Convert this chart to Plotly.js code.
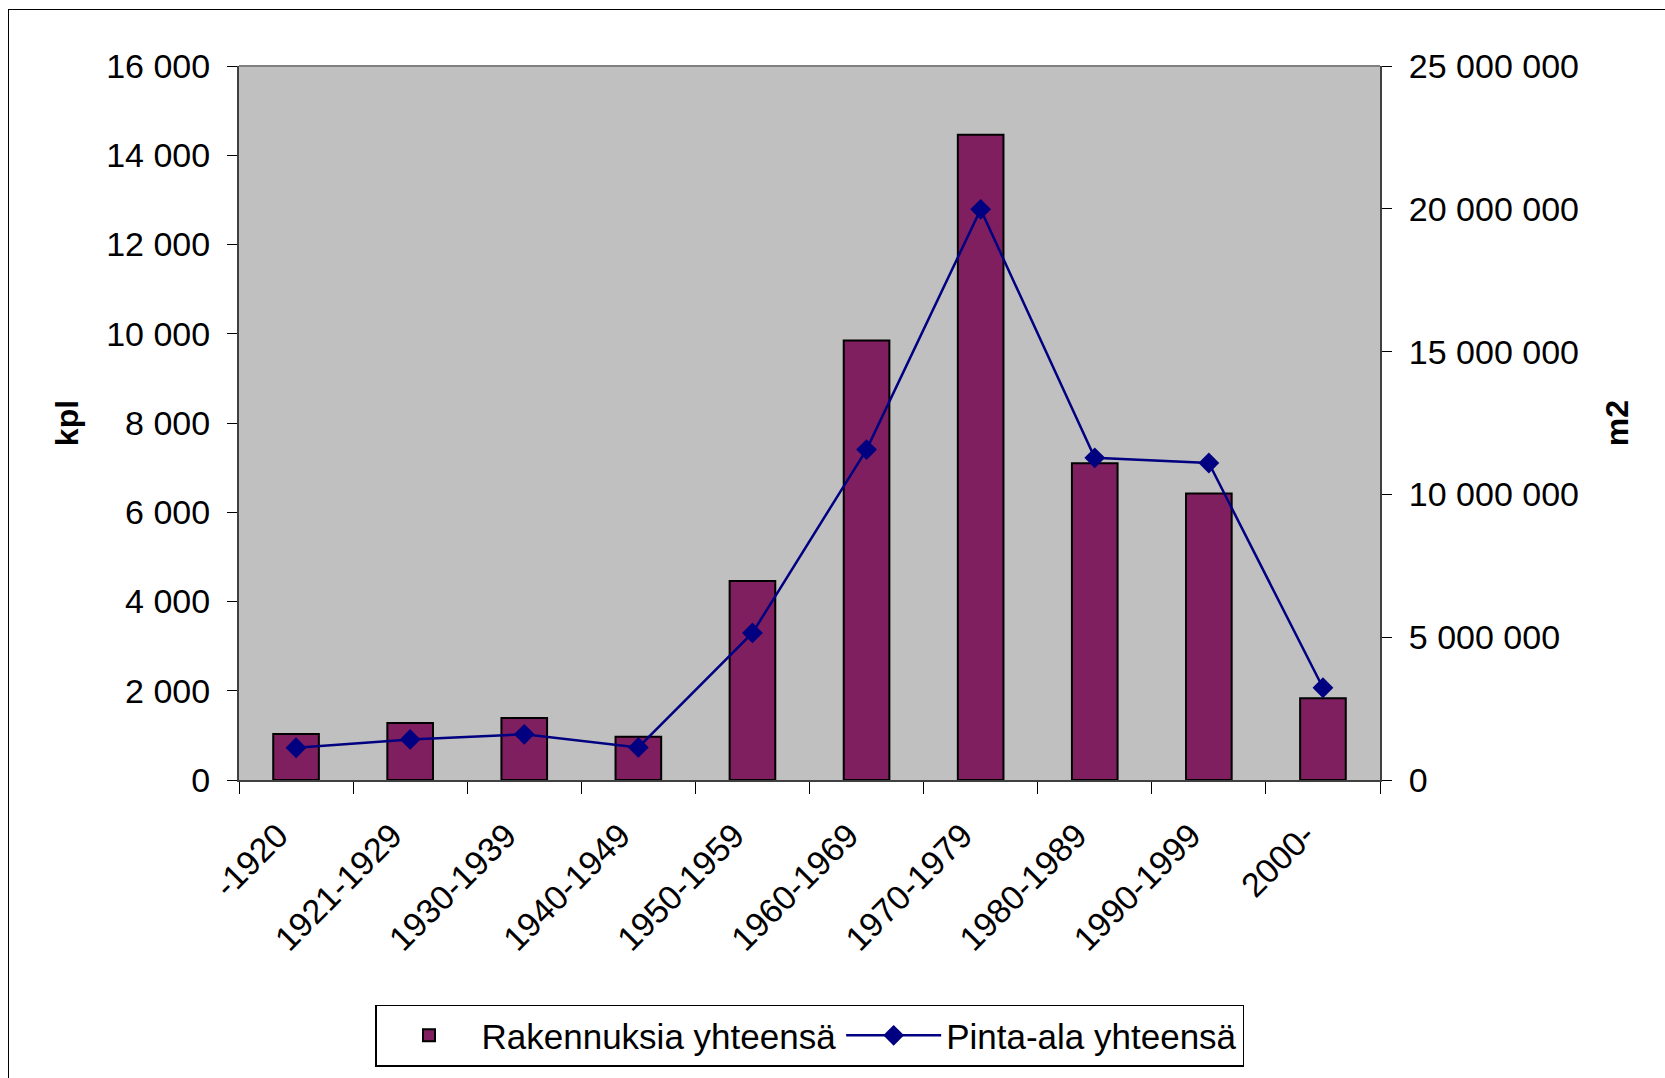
<!DOCTYPE html>
<html>
<head>
<meta charset="utf-8">
<script src="https://cdn.plot.ly/plotly-3.0.1.min.js"></script>
<style>
  html, body { margin: 0; padding: 0; background: #ffffff; overflow: hidden; }
  #chart { width: 1665px; height: 1078px; }
  #frame { position: absolute; left: 8px; top: 9px; width: 1700px; height: 1100px;
           border: 1.5px solid #000; pointer-events: none; }
</style>
</head>
<body>
<div id="chart"></div>
<div id="frame"></div>
<script>
const categories = ['-1920', '1921-1929', '1930-1939', '1940-1949', '1950-1959',
                    '1960-1969', '1970-1979', '1980-1989', '1990-1999', '2000-'];
const buildings = [1030, 1280, 1390, 970, 4460, 9850, 14460, 7100, 6420, 1830];
const floorArea = [1130000, 1420000, 1600000, 1140000, 5150000, 11570000, 19980000, 11280000, 11100000, 3230000];
const barName = 'Rakennuksia yhteensä';
const lineName = 'Pinta-ala yhteensä';
const leftTitle = 'kpl';
const rightTitle = 'm2';

const font = 'Liberation Sans, Arial, sans-serif';

const traces = [
  {
    type: 'bar', name: barName, x: categories, y: buildings,
    marker: { color: '#7f1f5f', line: { color: '#000000', width: 2 } },
    width: 0.4, yaxis: 'y'
  },
  {
    type: 'scatter', mode: 'lines+markers', name: lineName, x: categories, y: floorArea,
    line: { color: '#000080', width: 2.5 },
    marker: { symbol: 'diamond', size: 16, color: '#000080' },
    yaxis: 'y2'
  }
];

const layout = {
  width: 1665, height: 1078,
  margin: { l: 239, r: 285, t: 66, b: 295 },
  paper_bgcolor: '#ffffff',
  plot_bgcolor: '#c0c0c0',
  separators: ', ',
  font: { family: font, size: 34, color: '#000' },
  showlegend: true,
  legend: {
    orientation: 'h', x: 0.5, xanchor: 'center', y: -0.358, yanchor: 'middle',
    bgcolor: '#ffffff', bordercolor: '#000000', borderwidth: 1.5,
    font: { family: font, size: 35, color: '#000' },
    itemwidth: 95,
    traceorder: 'normal'
  },
  xaxis: {
    type: 'category',
    range: [-0.5, 9.5],
    tickangle: -45,
    ticks: 'outside', ticklen: 12, tickcolor: '#000', tickson: 'boundaries',
    ticklabelstandoff: 20, ticklabelshift: -18,
    showline: true, linecolor: '#404040', linewidth: 2,
    mirror: false, showgrid: false, zeroline: false,
    tickfont: { family: font, size: 34 },
    automargin: false
  },
  yaxis: {
    range: [0, 16000], tickvals: [0, 2000, 4000, 6000, 8000, 10000, 12000, 14000, 16000],
    tickformat: ',d',
    ticks: 'outside', ticklen: 10, tickcolor: '#000',
    ticklabelstandoff: 10,
    showline: true, linecolor: '#404040', linewidth: 2,
    showgrid: false, zeroline: false,
    tickfont: { family: font, size: 34 },
    title: { text: '<b>' + leftTitle + '</b>', font: { family: font, size: 32 }, standoff: 18 },
    automargin: false
  },
  yaxis2: {
    overlaying: 'y', side: 'right',
    range: [0, 25000000], tickvals: [0, 5000000, 10000000, 15000000, 20000000, 25000000],
    tickformat: ',d',
    ticks: 'outside', ticklen: 10, tickcolor: '#000',
    ticklabelstandoff: 10,
    showline: true, linecolor: '#404040', linewidth: 2,
    showgrid: false, zeroline: false,
    tickfont: { family: font, size: 34 },
    title: { text: '<b>' + rightTitle + '</b>', font: { family: font, size: 32 }, standoff: 28 },
    automargin: false
  },
  shapes: [
    { type: 'line', xref: 'paper', yref: 'paper', x0: 0, x1: 1, y0: 1, y1: 1,
      line: { color: '#808080', width: 2 } }
  ]
};

Plotly.newPlot('chart', traces, layout, { displayModeBar: false, staticPlot: true });
</script>
</body>
</html>
